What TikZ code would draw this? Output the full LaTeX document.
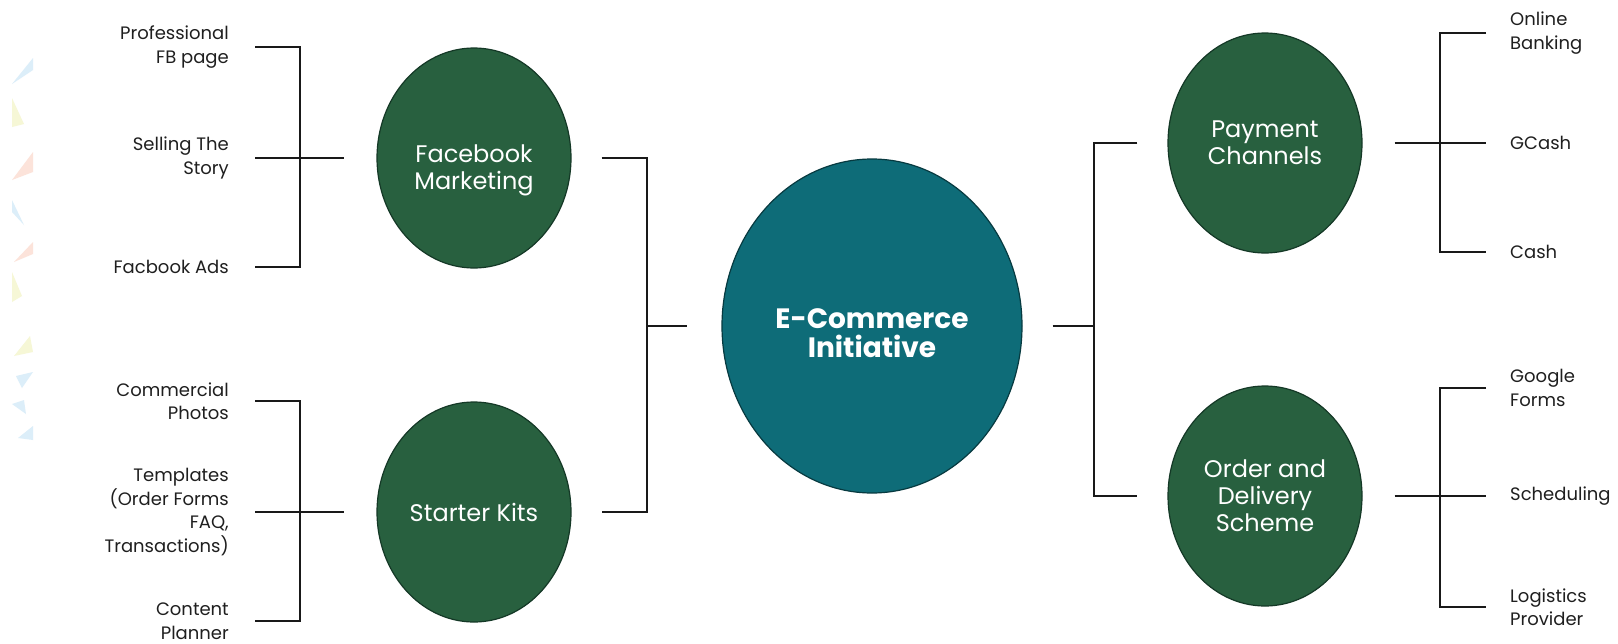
\documentclass[tikz,border=0pt]{standalone}
\usepackage{fontspec}
\setmainfont{Poppins}
\usetikzlibrary{shapes.geometric,calc}
\definecolor{leafgreen}{HTML}{28603F}
\definecolor{leafedge}{HTML}{143826}
\definecolor{tealc}{HTML}{0E6C78}
\definecolor{tealedge}{HTML}{073A40}
\definecolor{wmblue}{HTML}{DCEEF9}
\definecolor{wmyellow}{HTML}{F6F7D6}
\definecolor{wmsalmon}{HTML}{FCE3DA}
\begin{document}
\begin{tikzpicture}[x=1pt,y=-1pt,
  conn/.style={line width=2.5pt, draw=black!90},
  sub/.style={ellipse, fill=leafgreen, draw=leafedge, line width=1.2pt, inner sep=0pt,
    minimum width=194pt, minimum height=220pt, text=white, align=center,
    font=\fontsize{24}{27}\selectfont},
  hub/.style={ellipse, fill=tealc, draw=tealedge, line width=1.2pt, inner sep=0pt,
    minimum width=300pt, minimum height=334pt},
  hubtxt/.style={text=white, align=center, inner sep=0pt,
    font=\fontsize{28}{29}\selectfont\bfseries},
  subtxt/.style={text=white, align=center, inner sep=0pt,
    font=\fontsize{24}{27}\selectfont},
  ltxt/.style={anchor=east, align=right, inner sep=0pt, text=black!88,
    font=\fontsize{18}{23.5}\selectfont},
  rtxt/.style={anchor=west, align=left, inner sep=0pt, text=black!88,
    font=\fontsize{18}{23.5}\selectfont}
]
\useasboundingbox[fill=white] (0,0) rectangle (1618,643);

% faint watermark triangles on the left edge
\fill[wmblue]   (12,84) -- (33,58) -- (33,70) -- cycle;
\fill[wmyellow] (12,98) -- (12,127) -- (24,124) -- cycle;
\fill[wmsalmon] (12,180) -- (33,152) -- (33,172) -- cycle;
\fill[wmblue]   (12,200) -- (12,212) -- (24,225) -- cycle;
\fill[wmsalmon] (14,262) -- (33,242) -- (33,254) -- cycle;
\fill[wmyellow] (12,272) -- (12,302) -- (22,296) -- cycle;
\fill[wmyellow] (14,356) -- (30,336) -- (33,352) -- cycle;
\fill[wmblue]   (16,376) -- (33,372) -- (22,388) -- cycle;
\fill[wmblue]   (12,404) -- (24,400) -- (26,414) -- cycle;
\fill[wmblue]   (18,438) -- (33,426) -- (33,440) -- cycle;

% main nodes
\node[hub] (hub) at (872,326) {};
\node[hubtxt] (hubt) at (872,333) {E-Commerce\\Initiative};
\node[sub] (fb) at (474,158) {};
\node[subtxt] (fbt) at (474,170) {Facebook\\Marketing};
\node[sub] (sk) at (474,512) {Starter Kits};
\node[sub] (pc) at (1265,143) {Payment\\Channels};
\node[sub] (od) at (1265,496) {Order and\\Delivery\\Scheme};

% left texts
\node[ltxt] (a1) at (229,47) {Professional\\FB page};
\node[ltxt] (a2) at (229,158) {Selling The\\Story};
\node[ltxt] (a3) at (229,267) {Facbook Ads};
\node[ltxt] (b1) at (229,401) {Commercial\\Photos};
\node[ltxt] (b2) at (229,512) {Templates\\(Order Forms\\FAQ,\\Transactions)};
\node[ltxt] (b3) at (229,621) {Content\\Planner};

% right texts
\node[rtxt] (c1) at (1510,33) {Online\\Banking};
\node[rtxt] (c2) at (1510,143) {GCash};
\node[rtxt] (c3) at (1510,252) {Cash};
\node[rtxt] (d1) at (1510,388) {Google\\Forms};
\node[rtxt] (d2) at (1510,496) {Scheduling};
\node[rtxt] (d3) at (1510,607) {Logistics\\Provider};

% junction coordinates
\coordinate (fbj) at (300,158);
\coordinate (skj) at (300,512);
\coordinate (lhj) at (647,326);
\coordinate (rhj) at (1094,326);
\coordinate (pcj) at (1440,143);
\coordinate (odj) at (1440,496);

% left brackets
\draw[conn] ([xshift=26pt]a1.east) -| (fbj) |- ([xshift=26pt]a3.east);
\draw[conn] ([xshift=26pt]a2.east) -- ([xshift=-32pt]fb.west);
\draw[conn] ([xshift=26pt]b1.east) -| (skj) |- ([xshift=26pt]b3.east);
\draw[conn] ([xshift=26pt]b2.east) -- ([xshift=-32pt]sk.west);

% left connector to hub
\draw[conn] ([xshift=30pt]fb.east) -| (lhj) |- ([xshift=30pt]sk.east);
\draw[conn] (lhj) -- ([xshift=-34pt]hub.west);

% right connector from hub
\draw[conn] ([xshift=-30pt]pc.west) -| (rhj) |- ([xshift=-30pt]od.west);
\draw[conn] ([xshift=30pt]hub.east) -- (rhj);

% right brackets
\draw[conn] ([xshift=-24pt]c1.west) -| (pcj) |- ([xshift=-24pt]c3.west);
\draw[conn] ([xshift=32pt]pc.east) -- ([xshift=-24pt]c2.west);
\draw[conn] ([xshift=-24pt]d1.west) -| (odj) |- ([xshift=-24pt]d3.west);
\draw[conn] ([xshift=32pt]od.east) -- ([xshift=-24pt]d2.west);
\end{tikzpicture}
\end{document}
